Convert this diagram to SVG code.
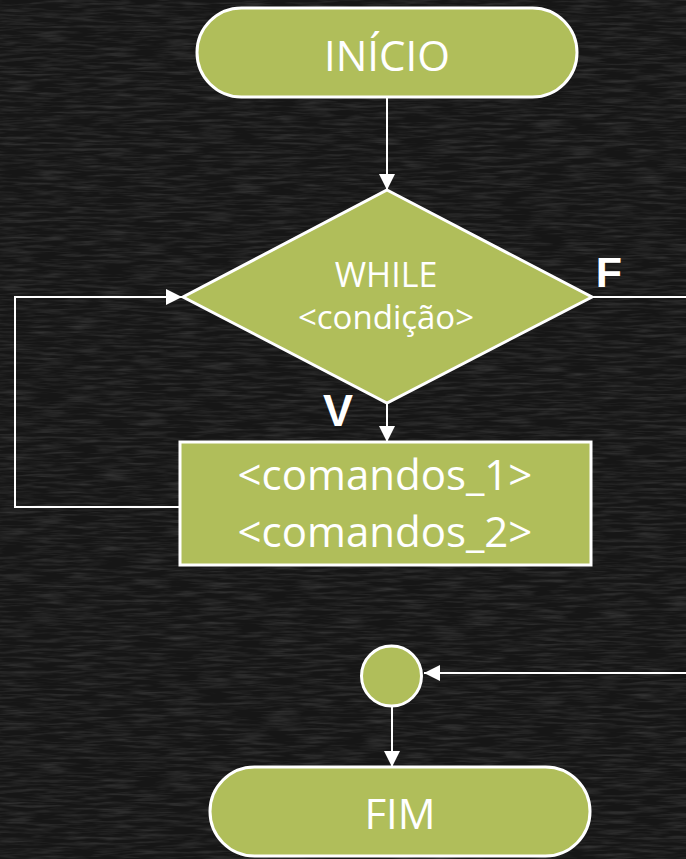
<svg xmlns="http://www.w3.org/2000/svg" width="686" height="859" viewBox="0 0 686 859">
<defs>
<filter id="tex" x="0" y="0" width="100%" height="100%">
<feTurbulence type="fractalNoise" baseFrequency="0.03 0.35" numOctaves="3" seed="4" result="n"/>
<feColorMatrix in="n" type="matrix" values="0 0 0 0 1  0 0 0 0 1  0 0 0 0 1  0 0 0 0.25 -0.1"/>
</filter>
<marker id="ah" viewBox="0 0 16 16" refX="16" refY="8" markerWidth="16" markerHeight="16" markerUnits="userSpaceOnUse" orient="auto">
<path d="M0,0 L16,8 L0,16 Z" fill="#ffffff"/>
</marker>
<style>
.shape{fill:#B0BE5A;stroke:#ffffff;stroke-width:3}
.lbl{fill:#ffffff;font-family:"Open Sans","Noto Sans",sans-serif;text-anchor:middle}
.conn{fill:none;stroke:#ffffff;stroke-width:2}
.vf{fill:#ffffff;font-family:"Liberation Sans",Arial,sans-serif;font-weight:bold;text-anchor:middle}
</style>
</defs>
<rect x="0" y="0" width="686" height="859" fill="#161616"/>
<rect x="0" y="0" width="686" height="859" filter="url(#tex)"/>
<g id="connectors">
<path class="conn" d="M387,98 V190" marker-end="url(#ah)"/>
<path class="conn" d="M387,403 V442" marker-end="url(#ah)"/>
<path class="conn" d="M180,507 H15 V297 H182" marker-end="url(#ah)"/>
<path class="conn" d="M593,297 H700 V673 H424" marker-end="url(#ah)"/>
<path class="conn" d="M392,707 V767" marker-end="url(#ah)"/>
</g>
<g id="inicio">
<rect class="shape" x="197" y="8" width="380" height="89" rx="44.5" ry="44.5"/>
<text class="lbl" x="387" y="71" font-size="42">INÍCIO</text>
</g>
<g id="while">
<polygon class="shape" points="387,190 592,297 387,403 183,297"/>
<text class="lbl" x="386" y="287" font-size="34">WHILE</text>
<text class="lbl" x="386" y="329" font-size="33">&lt;condição&gt;</text>
</g>
<g id="comandos">
<rect class="shape" x="180" y="442" width="411" height="123"/>
<text class="lbl" x="385" y="490" font-size="42">&lt;comandos_1&gt;</text>
<text class="lbl" x="385" y="547" font-size="42">&lt;comandos_2&gt;</text>
</g>
<g id="juncao">
<circle class="shape" cx="391.5" cy="676" r="30"/>
</g>
<g id="fim">
<rect class="shape" x="210" y="767" width="380" height="89" rx="44.5" ry="44.5"/>
<text class="lbl" x="400" y="829" font-size="42">FIM</text>
</g>
<g id="labels">
<text class="vf" x="609" y="287" font-size="43">F</text>
<text class="vf" x="338" y="426" font-size="45">V</text>
</g>
</svg>
